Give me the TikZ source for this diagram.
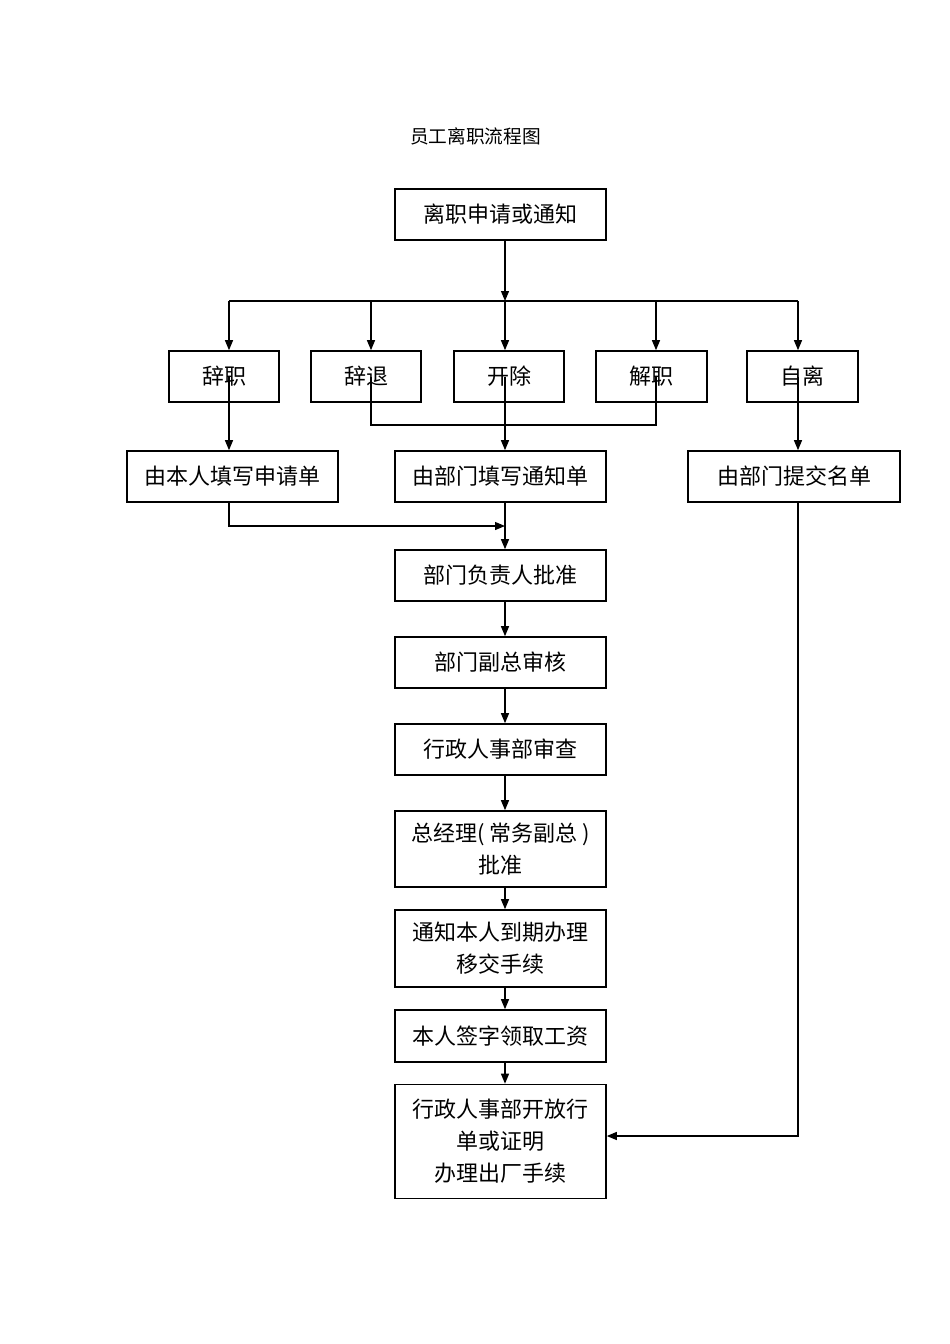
\documentclass[tikz,border=0pt]{standalone}
\usepackage{fontspec}
\setmainfont{Noto Sans CJK SC}
\usetikzlibrary{arrows.meta}
\begin{document}
\begin{tikzpicture}[x=1pt,y=-1pt,
  box/.style={draw=black,line width=1.6pt,rectangle,inner sep=0pt,minimum height=51pt,minimum width=211pt,align=center,font=\fontsize{22}{32}\selectfont},
  sbox/.style={box,minimum width=110pt},
  conn/.style={draw=black,line width=1.2pt},
  arr/.style={conn,-{Triangle[length=10pt,width=8pt]}}]
\useasboundingbox (0,0) rectangle (950,1344);
\node[font=\fontsize{18.7}{22}\selectfont] (title) at (475.5,136) {员工离职流程图};
\node[box] (top) at (500.5,214.5) {离职申请或通知};
\node[sbox] (b1) at (224,376.5) {辞职};
\node[sbox] (b2) at (366,376.5) {辞退};
\node[sbox] (b3) at (509,376.5) {开除};
\node[sbox,minimum width=111pt] (b4) at (651.5,376.5) {解职};
\node[sbox,minimum width=111pt] (b5) at (802.5,376.5) {自离};
\node[box] (r1) at (232.5,476.5) {由本人填写申请单};
\node[box] (r2) at (500.5,476.5) {由部门填写通知单};
\node[box,minimum width=212pt] (r3) at (794,476.5) {由部门提交名单};
\node[box] (m1) at (500.5,575.5) {部门负责人批准};
\node[box] (m2) at (500.5,662.5) {部门副总审核};
\node[box] (m3) at (500.5,749.5) {行政人事部审查};
\node[box,minimum height=76pt] (m4) at (500.5,849) {总经理( 常务副总 )\\批准};
\node[box,minimum height=77pt] (m5) at (500.5,948.5) {通知本人到期办理\\移交手续};
\node[box,minimum height=52pt] (m6) at (500.5,1036) {本人签字领取工资};
\node[box,minimum height=114pt] (m7) at (500.5,1141.5) {行政人事部开放行\\单或证明\\办理出厂手续};
\coordinate (c1) at (229,301);
\coordinate (c2) at (371,301);
\coordinate (c3) at (505,301);
\coordinate (c4) at (656,301);
\coordinate (c5) at (798,301);
\coordinate (h) at (0,425);
\coordinate (k) at (0,526);
\coordinate (q) at (0,1136);
\draw[arr] (top.south -| c3) -- (c3);
\draw[conn] (c1) -- (c5);
\draw[arr] (c1) -- (c1 |- b1.north);
\draw[arr] (c2) -- (c2 |- b2.north);
\draw[arr] (c3) -- (c3 |- b3.north);
\draw[arr] (c4) -- (c4 |- b4.north);
\draw[arr] (c5) -- (c5 |- b5.north);
\draw[arr] (c1 |- b1.center) -- (c1 |- r1.north);
\draw[conn] (c2 |- b2.center) -- (c2 |- h) -- (c4 |- h) -- (c4 |- b4.center);
\draw[arr] (c3 |- b3.center) -- (c3 |- r2.north);
\draw[arr] (c5 |- b5.center) -- (c5 |- r3.north);
\draw[arr] (c1 |- r1.south) -- (c1 |- k) -- (c3 |- k);
\draw[arr] (c3 |- r2.south) -- (c3 |- m1.north);
\draw[arr] (c3 |- m1.south) -- (c3 |- m2.north);
\draw[arr] (c3 |- m2.south) -- (c3 |- m3.north);
\draw[arr] (c3 |- m3.south) -- (c3 |- m4.north);
\draw[arr] (c3 |- m4.south) -- (c3 |- m5.north);
\draw[arr] (c3 |- m5.south) -- (c3 |- m6.north);
\draw[arr] (c3 |- m6.south) -- (c3 |- m7.north);
\draw[arr] (c5 |- r3.south) -- (c5 |- q) -- (m7.east |- q);
\end{tikzpicture}
\end{document}
